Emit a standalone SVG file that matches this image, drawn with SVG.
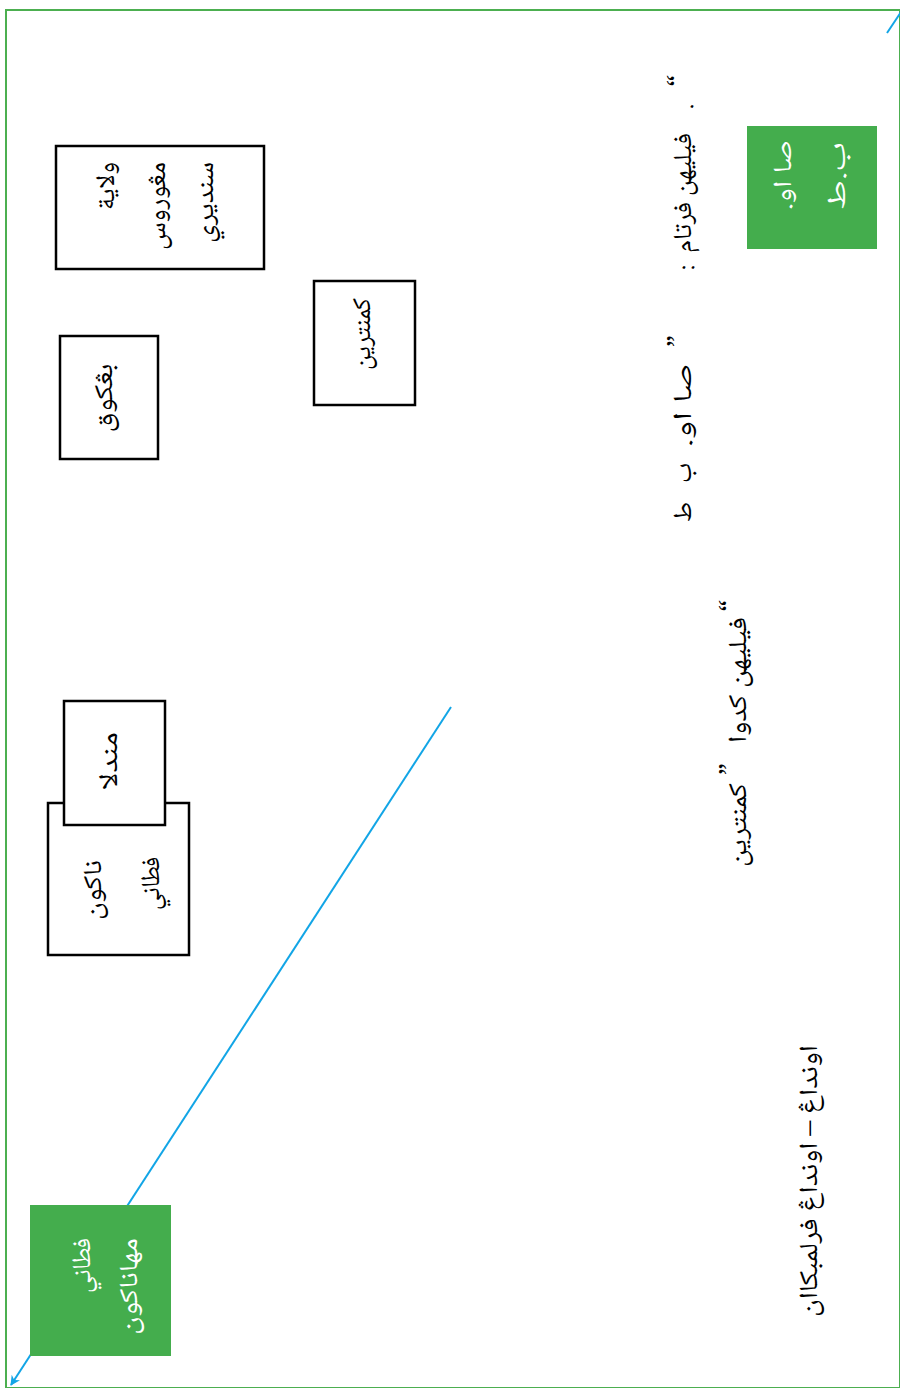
<svg xmlns="http://www.w3.org/2000/svg" width="900" height="1388" viewBox="0 0 900 1388">
<defs>
<style>
.box{fill:#fff;stroke:#000;stroke-width:2.5}
.gbox{fill:#44AD4D;stroke:none}
.t{font-family:'Noto Naskh Arabic','FreeSerif','Amiri','Noto Sans Arabic','Liberation Serif',serif;font-size:26px;fill:#000;direction:rtl}
.w{fill:#fff}
.conn{stroke:#12A5E6;stroke-width:2;fill:none}
</style>
<marker id="arr" viewBox="0 0 10 10" refX="9" refY="5" markerWidth="10" markerHeight="10" orient="auto" markerUnits="userSpaceOnUse"><path d="M0,0 L10,5 L0,10 L3,5 z" fill="#12A5E6"/></marker>
</defs>
<rect width="900" height="1388" fill="#fff"/>
<rect x="6" y="10" width="894" height="1378" fill="none" stroke="#4CAF50" stroke-width="2"/>

<g id="connectors">
<line class="conn" x1="451" y1="707" x2="11" y2="1385" marker-end="url(#arr)"/>
<line class="conn" x1="887" y1="33" x2="905" y2="6"/>
</g>

<g id="node-wilayah">
<rect class="box" x="56" y="146" width="208" height="123"/>
<text class="t" direction="rtl" text-anchor="start" textLength="48" lengthAdjust="spacingAndGlyphs" transform="translate(114,162) rotate(-90)">ولاية</text>
<text class="t" direction="rtl" text-anchor="start" textLength="88" lengthAdjust="spacingAndGlyphs" transform="translate(165,162) rotate(-90)">مڠوروس</text>
<text class="t" direction="rtl" text-anchor="start" textLength="81" lengthAdjust="spacingAndGlyphs" transform="translate(213,162) rotate(-90)">سنديري</text>
</g>
<g id="node-bangkok">
<rect class="box" x="60" y="336" width="98" height="123"/>
<text class="t" direction="rtl" text-anchor="middle" textLength="69" lengthAdjust="spacingAndGlyphs" transform="translate(112,398) rotate(-90)">بڠكوق</text>
</g>
<g id="node-kementerian">
<rect class="box" x="314" y="281" width="101" height="124"/>
<text class="t" direction="rtl" text-anchor="middle" textLength="72" lengthAdjust="spacingAndGlyphs" transform="translate(370,334) rotate(-90)">كمنترين</text>
</g>
<g id="node-nakhon">
<rect class="box" x="48" y="803" width="141" height="152"/>
<text class="t" direction="rtl" text-anchor="start" textLength="60" lengthAdjust="spacingAndGlyphs" transform="translate(101,860) rotate(-90)">ناكون</text>
<text class="t" direction="rtl" text-anchor="start" textLength="53" lengthAdjust="spacingAndGlyphs" transform="translate(159,857) rotate(-90)">فطاني</text>
</g>
<g id="node-mandala">
<rect class="box" x="64" y="701" width="101" height="124"/>
<text class="t" direction="rtl" text-anchor="middle" textLength="58" lengthAdjust="spacingAndGlyphs" transform="translate(117,761) rotate(-90)">مندلا</text>
</g>
<g id="node-sbpac">
<rect class="gbox" x="747" y="126" width="130" height="123"/>
<text class="t w" direction="rtl" text-anchor="start" textLength="70" lengthAdjust="spacingAndGlyphs" transform="translate(791,140) rotate(-90)">صا او.</text>
<text class="t w" direction="rtl" text-anchor="start" textLength="68" lengthAdjust="spacingAndGlyphs" transform="translate(845,142) rotate(-90)">ب.ط</text>
</g>
<g id="node-mahanakhon">
<rect class="gbox" x="30" y="1205" width="141" height="151"/>
<text class="t w" direction="rtl" text-anchor="start" textLength="55" lengthAdjust="spacingAndGlyphs" transform="translate(90,1238) rotate(-90)">فطاني</text>
<text class="t w" direction="rtl" text-anchor="start" textLength="97" lengthAdjust="spacingAndGlyphs" transform="translate(137,1238) rotate(-90)">مهاناكون</text>
</g>

<g id="label-option1">
<text class="t" direction="rtl" text-anchor="start" transform="translate(685,75) rotate(-90)">“</text>
<text class="t" direction="rtl" text-anchor="start" transform="translate(692,104) rotate(-90)">.</text>
<text class="t" direction="rtl" text-anchor="start" textLength="120" lengthAdjust="spacingAndGlyphs" transform="translate(691,133) rotate(-90)">فيليهن فرتام</text>
<text class="t" direction="rtl" text-anchor="start" transform="translate(693,265) rotate(-90)">:</text>
<text class="t" direction="rtl" text-anchor="start" transform="translate(685,335) rotate(-90)">”</text>
<text class="t" direction="rtl" text-anchor="start" textLength="84" lengthAdjust="spacingAndGlyphs" transform="translate(691,363) rotate(-90)">صا او.</text>
<text class="t" direction="rtl" text-anchor="start" transform="translate(691,463) rotate(-90)">ب</text>
<text class="t" direction="rtl" text-anchor="start" transform="translate(691,502) rotate(-90)">ط</text>
</g>
<g id="label-option2">
<text class="t" direction="rtl" text-anchor="start" transform="translate(737,600) rotate(-90)">“</text>
<text class="t" direction="rtl" text-anchor="start" textLength="126" lengthAdjust="spacingAndGlyphs" transform="translate(746,617) rotate(-90)">فيليهن كدوا</text>
<text class="t" direction="rtl" text-anchor="start" transform="translate(737,763) rotate(-90)">”</text>
<text class="t" direction="rtl" text-anchor="start" textLength="84" lengthAdjust="spacingAndGlyphs" transform="translate(746,783) rotate(-90)">كمنترين</text>
</g>
<g id="label-constitution">
<text class="t" direction="rtl" text-anchor="start" textLength="272" lengthAdjust="spacingAndGlyphs" transform="translate(817,1045) rotate(-90)">اونداڠ – اونداڠ فرلمبكاان</text>
</g>
</svg>
